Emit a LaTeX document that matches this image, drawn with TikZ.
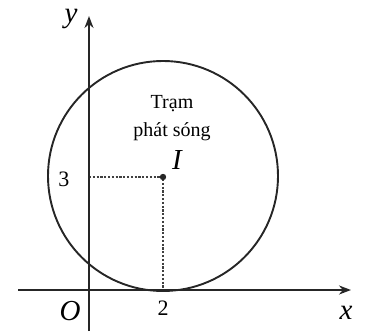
\documentclass[tikz,border=0pt]{standalone}
\usepackage{fontspec}
\setmainfont{Liberation Serif}
\usetikzlibrary{arrows.meta}
\begin{document}
\begin{tikzpicture}[x=1pt,y=-1pt,
  axis/.style={line width=2.2pt,draw=black!85,-{Stealth[length=12pt,width=9pt]}},
  guide/.style={line width=1.5pt,draw=black!75,dash pattern=on 2.2pt off 1.6pt},
  lbl/.style={inner sep=0pt,font=\fontsize{29}{30}\selectfont\itshape},
  num/.style={inner sep=0pt,font=\fontsize{22}{24}\selectfont,text=black},
  txt/.style={inner sep=0pt,font=\fontsize{20}{22}\selectfont,align=center,text=black}]
\useasboundingbox (0,0) rectangle (365,333);
\coordinate (xs) at (18,290);
\coordinate (xe) at (351,290);
\coordinate (ys) at (89,331);
\coordinate (ye) at (89,16);
\coordinate (I) at (163,176);
\coordinate (Iy) at (89,177);
\coordinate (Ix) at (163,290);
\draw[line width=1.9pt,draw=black!85] (I) circle[radius=115];
\draw[guide] (Iy) -- (163,177) -- (Ix);
\draw[axis] (xs) -- (xe);
\draw[axis] (ys) -- (ye);
\fill[black!85] (163,177) circle[radius=3.2];
\node[lbl] (ly) at (71,19) {y};
\node[lbl] (lx) at (346,313) {x};
\node[lbl] (lO) at (70,311) {O};
\node[lbl] (lI) at (177,160) {I};
\node[num] (l2) at (163,308) {2};
\node[num] (l3) at (64,179) {3};
\node[txt] (t1) at (172,104) {Trạm};
\node[txt] (t2) at (172,132) {phát sóng};
\end{tikzpicture}
\end{document}
